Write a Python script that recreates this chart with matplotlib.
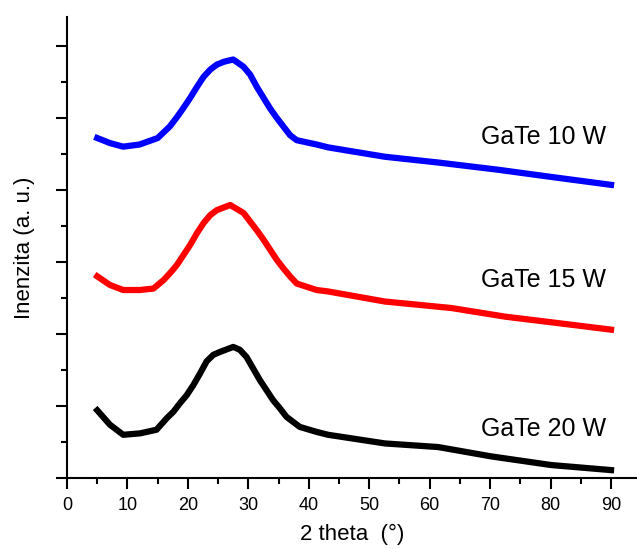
import numpy as np
import matplotlib
matplotlib.use("Agg")
import matplotlib.pyplot as plt
from matplotlib.ticker import MultipleLocator

plt.rcParams['font.family'] = ['Liberation Sans', 'DejaVu Sans']

# values (2 theta in degrees, intensity in stacked a.u.)
x_10w = [5, 7.1, 9.3, 12, 15, 17, 18.1, 19.2, 20.4, 21.5, 22.6, 23.7, 24.8, 26,
         27.5, 29.2, 30.3, 31.4, 32.5, 33.6, 34.7, 35.8, 36.9, 38, 41.3, 43.2,
         52.6, 61.4, 71.3, 80.1, 90]
y_10w = [4.72, 4.65, 4.60, 4.63, 4.72, 4.88, 5.00, 5.13, 5.28, 5.43, 5.57, 5.67,
         5.74, 5.78, 5.81, 5.71, 5.60, 5.43, 5.28, 5.13, 5.00, 4.88, 4.76, 4.69,
         4.63, 4.59, 4.46, 4.38, 4.28, 4.18, 4.07]

x_15w = [5, 7.1, 9.3, 12, 14.3, 16, 17.1, 18.2, 19.3, 20.4, 21.5, 22.6, 23.7,
         24.8, 27, 29.2, 30.3, 31.4, 32.5, 33.6, 34.7, 35.8, 36.9, 38, 41.3, 43.2,
         52.6, 63.6, 72.5, 81.3, 90]
y_15w = [2.80, 2.68, 2.61, 2.61, 2.63, 2.75, 2.85, 2.96, 3.10, 3.24, 3.40, 3.54,
         3.65, 3.72, 3.79, 3.68, 3.56, 3.44, 3.31, 3.17, 3.03, 2.91, 2.80, 2.70,
         2.61, 2.59, 2.45, 2.36, 2.24, 2.15, 2.06]

x_20w = [5, 7.1, 9.3, 12.1, 14.8, 16.5, 17.6, 18.7, 19.8, 20.9, 22, 23.1, 24.2,
         25.3, 27.5, 28.6, 29.7, 30.8, 31.9, 33, 34.1, 35.2, 36.3, 37.4, 38.5,
         41.3, 43.2, 52.6, 61.4, 70.2, 80.1, 90]
y_20w = [0.94, 0.74, 0.60, 0.62, 0.67, 0.83, 0.92, 1.04, 1.15, 1.29, 1.45, 1.62,
         1.71, 1.75, 1.82, 1.78, 1.68, 1.52, 1.36, 1.22, 1.08, 0.97, 0.85, 0.78,
         0.71, 0.64, 0.60, 0.48, 0.43, 0.30, 0.18, 0.11]

labels = ['GaTe 10 W', 'GaTe 15 W', 'GaTe 20 W']
label_y = [4.74, 2.75, 0.68]
colors = ['#0000ff', '#ff0000', '#000000']

fig = plt.figure(figsize=(6.37, 5.49), dpi=100)
ax = fig.add_axes([0.1052, 0.1293, 0.8948, 0.8397])

for xs, ys, c in zip([x_10w, x_15w, x_20w], [y_10w, y_15w, y_20w], colors):
    ax.plot(xs, ys, color=c, lw=4.5, solid_joinstyle='round')

for lab, ly in zip(labels, label_y):
    ax.text(89.2, ly, lab, ha='right', va='center', fontsize=18)

ax.set_xlim(0, 94.3)
ax.set_ylim(0, 6.4)
ax.xaxis.set_major_locator(MultipleLocator(10))
ax.xaxis.set_minor_locator(MultipleLocator(5))
ax.yaxis.set_major_locator(MultipleLocator(1))
ax.yaxis.set_minor_locator(MultipleLocator(0.5))
ax.set_yticklabels([])
ax.set_xticks(np.arange(0, 91, 10))

for side in ['top', 'right']:
    ax.spines[side].set_visible(False)
for side in ['left', 'bottom']:
    ax.spines[side].set_linewidth(1.5)

ax.tick_params(axis='both', which='major', length=8, width=1.5, direction='out',
               labelsize=13, pad=6)
ax.tick_params(axis='both', which='minor', length=4, width=1.5, direction='out')

ax.set_xlabel('2 theta  (°)', fontsize=16, labelpad=7)
ax.set_ylabel('Inenzita (a. u.)', fontsize=16, labelpad=9)

fig.savefig('out.png', dpi=100)
